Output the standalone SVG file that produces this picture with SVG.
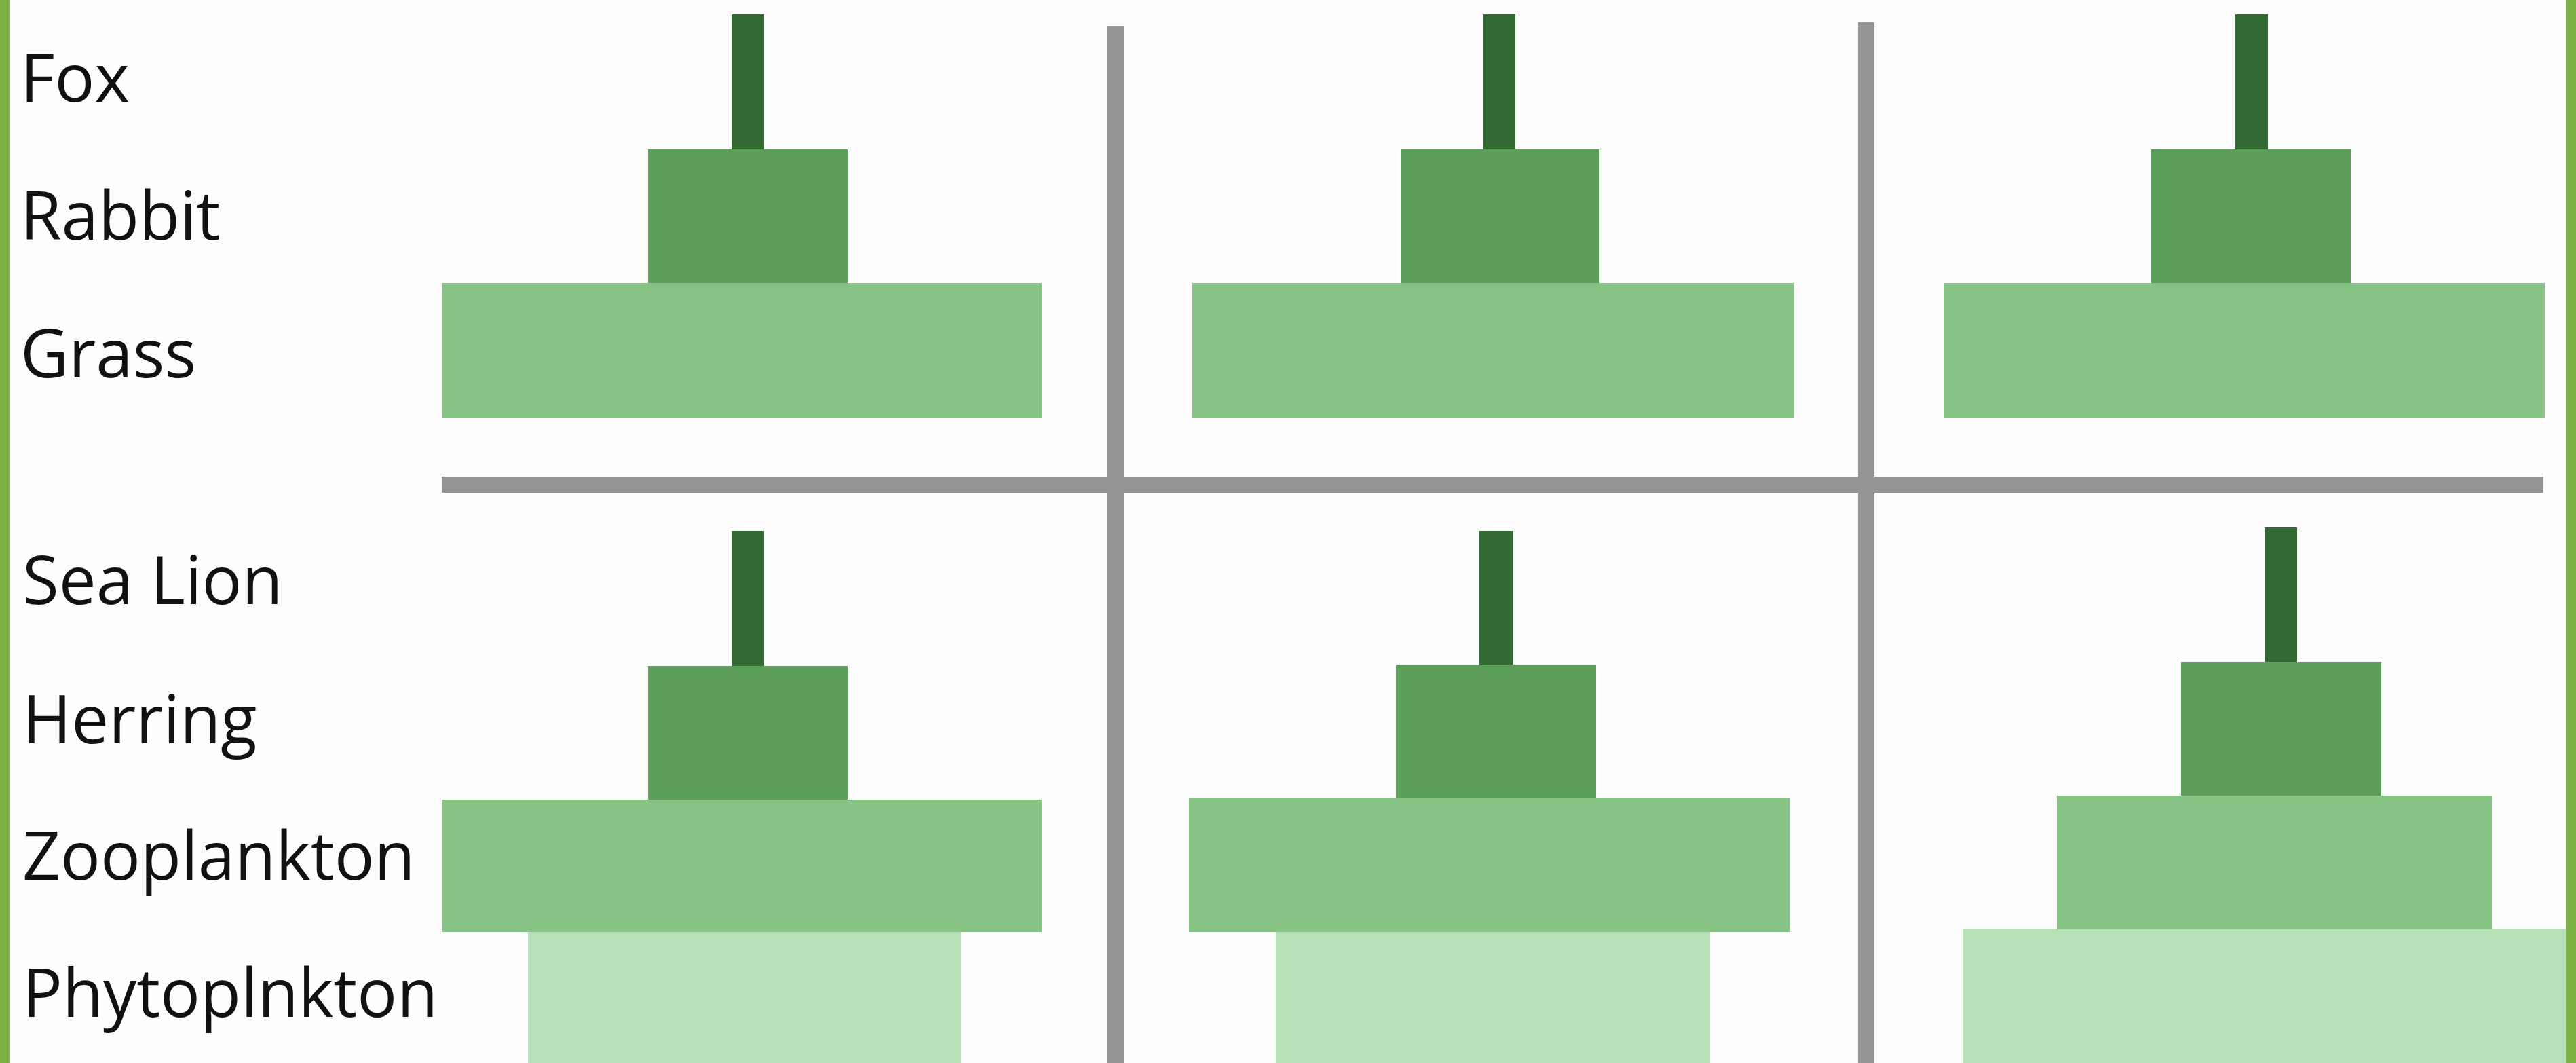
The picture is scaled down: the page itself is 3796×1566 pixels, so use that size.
<svg xmlns="http://www.w3.org/2000/svg" width="3796" height="1566" viewBox="0 0 3796 1566">
<style>
.lbl{font-family:"Open Sans","Liberation Sans",sans-serif;font-size:98px;fill:#111}
.l1{fill:#336a31}
.l2{fill:#5c9f5a}
.l3{fill:#86c384}
.l4{fill:#b7e1b6}
.grid{stroke:#959595;stroke-width:24;fill:none}
.border{fill:#7cb342}
</style>
<rect x="0" y="0" width="3796" height="1566" fill="#fdfdfd"/>
<g id="grid-lines">
<line class="grid" x1="651" y1="714" x2="3748" y2="714"/>
<line class="grid" x1="1644" y1="39" x2="1644" y2="1566"/>
<line class="grid" x1="2750" y1="33" x2="2750" y2="1566"/>
</g>
<g id="labels">
<text class="lbl" x="30" y="150">Fox</text>
<text class="lbl" x="30" y="353">Rabbit</text>
<text class="lbl" x="30" y="556">Grass</text>
<text class="lbl" x="33" y="890">Sea Lion</text>
<text class="lbl" x="33" y="1095">Herring</text>
<text class="lbl" x="33" y="1296">Zooplankton</text>
<text class="lbl" x="33" y="1498">Phytoplnkton</text>
</g>
<g id="pyramid-land-1">
<rect class="l3" x="651" y="417" width="884" height="199"/>
<rect class="l2" x="955" y="220" width="294" height="197"/>
<rect class="l1" x="1078" y="21" width="48" height="199"/>
</g>
<g id="pyramid-land-2">
<rect class="l3" x="1757" y="417" width="886" height="199"/>
<rect class="l2" x="2064" y="220" width="293" height="197"/>
<rect class="l1" x="2186" y="21" width="47" height="199"/>
</g>
<g id="pyramid-land-3">
<rect class="l3" x="2864" y="417" width="886" height="199"/>
<rect class="l2" x="3170" y="220" width="294" height="197"/>
<rect class="l1" x="3294" y="21" width="48" height="199"/>
</g>
<g id="pyramid-sea-1">
<rect class="l4" x="778" y="1373" width="638" height="193"/>
<rect class="l3" x="651" y="1178" width="884" height="195"/>
<rect class="l2" x="955" y="981" width="294" height="197"/>
<rect class="l1" x="1078" y="782" width="48" height="199"/>
</g>
<g id="pyramid-sea-2">
<rect class="l4" x="1880" y="1368" width="640" height="198"/>
<rect class="l3" x="1752" y="1176" width="886" height="197"/>
<rect class="l2" x="2057" y="979" width="295" height="197"/>
<rect class="l1" x="2180" y="782" width="50" height="197"/>
</g>
<g id="pyramid-sea-3">
<rect class="l4" x="2892" y="1368" width="890" height="198"/>
<rect class="l3" x="3031" y="1172" width="641" height="197"/>
<rect class="l2" x="3214" y="975" width="295" height="197"/>
<rect class="l1" x="3337" y="777" width="48" height="198"/>
</g>
<g id="frame">
<rect class="border" x="0" y="0" width="14" height="1566"/>
<rect class="border" x="3781" y="0" width="15" height="1566"/>
</g>
</svg>
